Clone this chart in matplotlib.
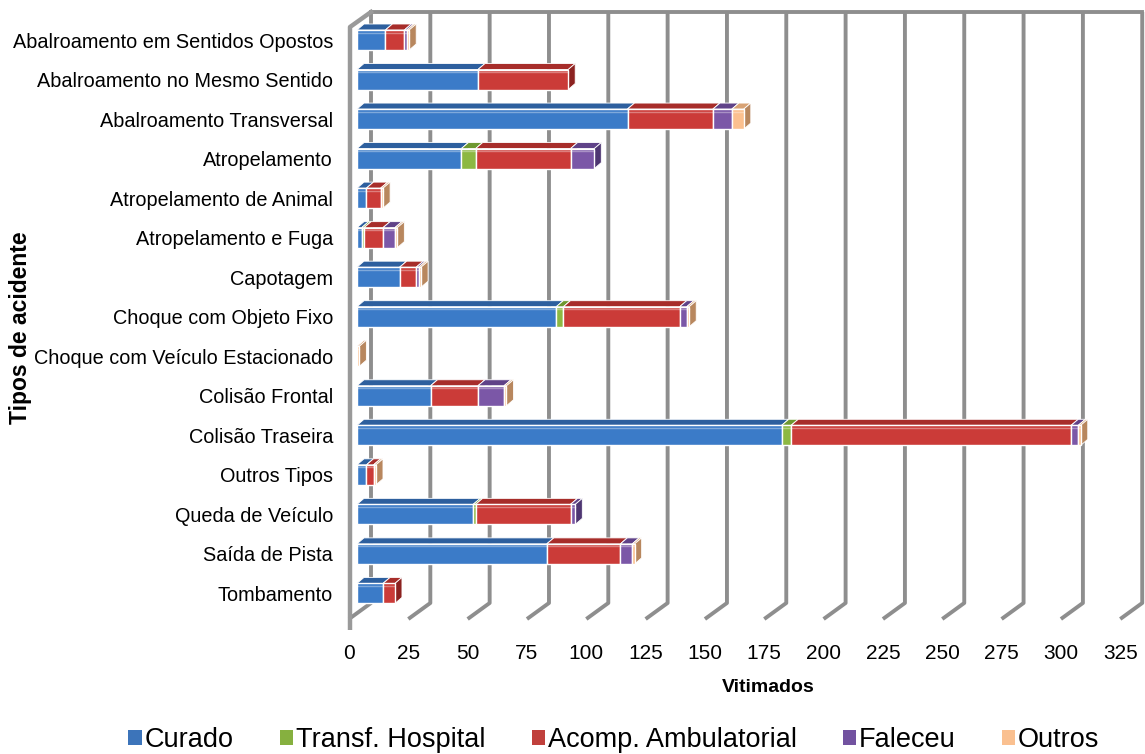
import numpy as np
import matplotlib
matplotlib.use('Agg')
import matplotlib.pyplot as plt
from matplotlib.patches import Polygon, Patch

plt.rcParams['font.family'] = ['Liberation Sans', 'DejaVu Sans']

# 数据
categorias = ['Abalroamento em Sentidos Opostos', 'Abalroamento no Mesmo Sentido',
              'Abalroamento Transversal', 'Atropelamento', 'Atropelamento de Animal',
              'Atropelamento e Fuga', 'Capotagem', 'Choque com Objeto Fixo',
              'Choque com Veículo Estacionado', 'Colisão Frontal', 'Colisão Traseira',
              'Outros Tipos', 'Queda de Veículo', 'Saída de Pista', 'Tombamento']
curado = [12, 51, 114, 44, 4, 2, 18, 84, 0, 31, 179, 4, 49, 80, 11]
transf_hospital = [0, 0, 0, 6, 0, 1, 0, 3, 0, 0, 4, 0, 1, 0, 0]
acomp_ambulatorial = [8, 38, 36, 40, 6, 8, 7, 49, 0, 20, 118, 3, 40, 31, 5]
faleceu = [1, 0, 8, 10, 0, 5, 1, 3, 0, 11, 3, 0, 2, 5, 0]
outros = [1, 0, 5, 0, 1, 1, 1, 1, 1, 1, 1, 1, 0, 1, 0]
xticks = list(range(0, 326, 25))

series = [('Curado', curado), ('Transf. Hospital', transf_hospital),
          ('Acomp. Ambulatorial', acomp_ambulatorial), ('Faleceu', faleceu),
          ('Outros', outros)]
# cor frontal, topo, lado
cores = {
    'Curado': ('#3B7BC8', '#2D5F9E', '#25508A'),
    'Transf. Hospital': ('#8DB842', '#6E9830', '#5E8428'),
    'Acomp. Ambulatorial': ('#CB3B38', '#A72D2A', '#8C2220'),
    'Faleceu': ('#7B57A7', '#5F4288', '#4E3672'),
    'Outros': ('#FBC08F', '#D8A274', '#B8875E'),
}
legenda_cores = {'Curado': '#3C74BA', 'Transf. Hospital': '#86B03F',
                 'Acomp. Ambulatorial': '#C0403C', 'Faleceu': '#7252A0',
                 'Outros': '#FAC090'}

W, H = 1145, 754
fig = plt.figure(figsize=(W / 100, H / 100), dpi=100)

# eixo em "pixels": 0 -> 357px, 2.373 px por unidade; linhas a cada 39.53 px
sx = 2.373
sy = 39.53
ax_l, ax_r, ax_t, ax_b = 340, 1145, 0, 630
ax = fig.add_axes([ax_l / W, (H - ax_b) / H, (ax_r - ax_l) / W, (ax_b - ax_t) / H])
ax.set_xlim((ax_l - 357) / sx, (ax_r - 357) / sx)
ax.set_ylim((ax_b - 40) / sy, (ax_t - 40) / sy)
for s in ax.spines.values():
    s.set_visible(False)

PX = 1 / sx
PY = 1 / sy
def ypix(p):
    return (p - 40) / sy

grid_c = '#8E8E8E'
# parede do fundo e chão
y_top = ypix(12)
y_bot = ypix(603)
y_front = ypix(619)
for v in xticks:
    xb = v + 14 * PX
    xf = v - 8 * PX
    ax.plot([xb, xb, xf], [y_top, y_bot, y_front], color=grid_c, lw=2.8,
            solid_capstyle='butt', zorder=1)
ax.plot([14 * PX, xticks[-1] + 14 * PX], [y_top, y_top], color=grid_c, lw=2.8, zorder=1)
# parede lateral esquerda
ax.plot([14 * PX, -7 * PX, -7 * PX], [y_top, ypix(27), ypix(630)], color='#9A9A9A',
        lw=3.2, zorder=1)

# barras 3D
h = 20 * PY
dx = 7 * PX
dy = -6 * PY
for i in range(len(categorias)):
    left = 0
    for nome, vals in series:
        v = vals[i]
        if v <= 0:
            continue
        fc, tc, sc = cores[nome]
        x0, x1 = left, left + v
        yt, yb = i - h / 2, i + h / 2
        ax.add_patch(Polygon([(x0, yt), (x1, yt), (x1 + dx, yt + dy), (x0 + dx, yt + dy)],
                             closed=True, facecolor=tc, edgecolor='white', lw=0.6, zorder=3))
        ax.add_patch(Polygon([(x1, yt), (x1 + dx, yt + dy), (x1 + dx, yb + dy), (x1, yb)],
                             closed=True, facecolor=sc, edgecolor='white', lw=0.6, zorder=3))
        ax.barh(i, v, left=left, height=h, color=fc, edgecolor='white', linewidth=1.0,
                zorder=4)
        # brilho no topo da face frontal
        ax.plot([x0 + 0.6 * PX, x1 - 0.6 * PX], [yt + 2.5 * PY, yt + 2.5 * PY],
                color='white', alpha=0.35, lw=1.0, zorder=5)
        left += v

ax.set_yticks(range(len(categorias)))
ax.set_yticklabels(categorias, fontsize=14.3)
ax.set_xticks([v - 8 * PX for v in xticks])
ax.set_xticklabels([str(v) for v in xticks], fontsize=15)
ax.tick_params(axis='y', length=0, pad=5)
ax.tick_params(axis='x', length=0, pad=10)

fig.text(768 / W, 1 - 688 / H, 'Vitimados', ha='center', va='center',
         fontsize=14, fontweight='bold')
fig.text(21 / W, 1 - 328 / H, 'Tipos de acidente', ha='center', va='center',
         rotation=90, fontsize=16.5, fontweight='bold')

handles = [Patch(facecolor=legenda_cores[n], edgecolor='none') for n, _ in series]
fig.legend(handles, [n for n, _ in series], loc='center', ncol=5,
           bbox_to_anchor=(614 / W, 1 - 740 / H), frameon=False, fontsize=19.5,
           handlelength=0.5, handleheight=0.5, handletextpad=0.1, columnspacing=1.7)

fig.savefig('out.png', dpi=100)
